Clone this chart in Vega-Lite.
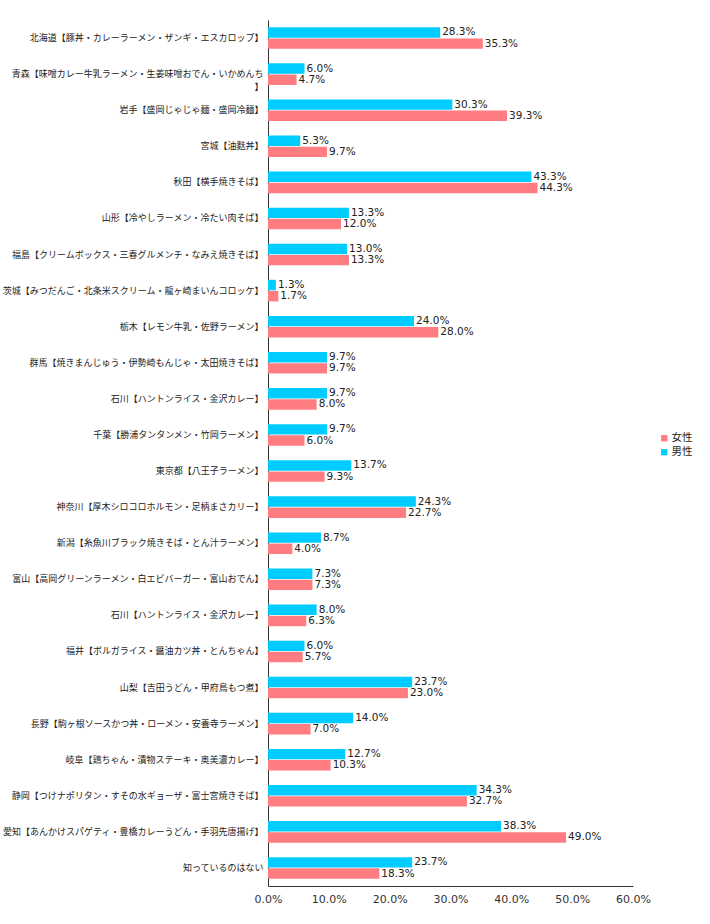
{
  "$schema": "https://vega.github.io/schema/vega-lite/v6.json",
  "autosize": {"type": "none"},
  "padding": {"left": 268, "top": 20, "right": 77, "bottom": 38},
  "width": 365,
  "height": 866,
  "background": "white",
  "config": {"view": {"stroke": null}},
  "data": {"values": [
    {"item": "北海道【豚丼・カレーラーメン・ザンギ・エスカロップ】", "sex": "男性", "v": 0.283},
    {"item": "北海道【豚丼・カレーラーメン・ザンギ・エスカロップ】", "sex": "女性", "v": 0.353},
    {"item": "青森【味噌カレー牛乳ラーメン・生姜味噌おでん・いかめんち\n】", "sex": "男性", "v": 0.060},
    {"item": "青森【味噌カレー牛乳ラーメン・生姜味噌おでん・いかめんち\n】", "sex": "女性", "v": 0.047},
    {"item": "岩手【盛岡じゃじゃ麺・盛岡冷麺】", "sex": "男性", "v": 0.303},
    {"item": "岩手【盛岡じゃじゃ麺・盛岡冷麺】", "sex": "女性", "v": 0.393},
    {"item": "宮城【油麩丼】", "sex": "男性", "v": 0.053},
    {"item": "宮城【油麩丼】", "sex": "女性", "v": 0.097},
    {"item": "秋田【横手焼きそば】", "sex": "男性", "v": 0.433},
    {"item": "秋田【横手焼きそば】", "sex": "女性", "v": 0.443},
    {"item": "山形【冷やしラーメン・冷たい肉そば】", "sex": "男性", "v": 0.133},
    {"item": "山形【冷やしラーメン・冷たい肉そば】", "sex": "女性", "v": 0.120},
    {"item": "福島【クリームボックス・三春グルメンチ・なみえ焼きそば】", "sex": "男性", "v": 0.130},
    {"item": "福島【クリームボックス・三春グルメンチ・なみえ焼きそば】", "sex": "女性", "v": 0.133},
    {"item": "茨城【みつだんご・北条米スクリーム・龍ヶ崎まいんコロッケ】", "sex": "男性", "v": 0.013},
    {"item": "茨城【みつだんご・北条米スクリーム・龍ヶ崎まいんコロッケ】", "sex": "女性", "v": 0.017},
    {"item": "栃木【レモン牛乳・佐野ラーメン】", "sex": "男性", "v": 0.240},
    {"item": "栃木【レモン牛乳・佐野ラーメン】", "sex": "女性", "v": 0.280},
    {"item": "群馬【焼きまんじゅう・伊勢崎もんじゃ・太田焼きそば】", "sex": "男性", "v": 0.097},
    {"item": "群馬【焼きまんじゅう・伊勢崎もんじゃ・太田焼きそば】", "sex": "女性", "v": 0.097},
    {"item": "石川【ハントンライス・金沢カレー】", "sex": "男性", "v": 0.097},
    {"item": "石川【ハントンライス・金沢カレー】", "sex": "女性", "v": 0.080},
    {"item": "千葉【勝浦タンタンメン・竹岡ラーメン】", "sex": "男性", "v": 0.097},
    {"item": "千葉【勝浦タンタンメン・竹岡ラーメン】", "sex": "女性", "v": 0.060},
    {"item": "東京都【八王子ラーメン】", "sex": "男性", "v": 0.137},
    {"item": "東京都【八王子ラーメン】", "sex": "女性", "v": 0.093},
    {"item": "神奈川【厚木シロコロホルモン・足柄まさカリー】", "sex": "男性", "v": 0.243},
    {"item": "神奈川【厚木シロコロホルモン・足柄まさカリー】", "sex": "女性", "v": 0.227},
    {"item": "新潟【糸魚川ブラック焼きそば・とん汁ラーメン】", "sex": "男性", "v": 0.087},
    {"item": "新潟【糸魚川ブラック焼きそば・とん汁ラーメン】", "sex": "女性", "v": 0.040},
    {"item": "富山【高岡グリーンラーメン・白エビバーガー・富山おでん】", "sex": "男性", "v": 0.073},
    {"item": "富山【高岡グリーンラーメン・白エビバーガー・富山おでん】", "sex": "女性", "v": 0.073},
    {"item": "石川【ハントンライス・金沢カレー】\u200b", "sex": "男性", "v": 0.080},
    {"item": "石川【ハントンライス・金沢カレー】\u200b", "sex": "女性", "v": 0.063},
    {"item": "福井【ボルガライス・醤油カツ丼・とんちゃん】", "sex": "男性", "v": 0.060},
    {"item": "福井【ボルガライス・醤油カツ丼・とんちゃん】", "sex": "女性", "v": 0.057},
    {"item": "山梨【吉田うどん・甲府鳥もつ煮】", "sex": "男性", "v": 0.237},
    {"item": "山梨【吉田うどん・甲府鳥もつ煮】", "sex": "女性", "v": 0.230},
    {"item": "長野【駒ヶ根ソースかつ丼・ローメン・安養寺ラーメン】", "sex": "男性", "v": 0.140},
    {"item": "長野【駒ヶ根ソースかつ丼・ローメン・安養寺ラーメン】", "sex": "女性", "v": 0.070},
    {"item": "岐阜【鶏ちゃん・漬物ステーキ・奥美濃カレー】", "sex": "男性", "v": 0.127},
    {"item": "岐阜【鶏ちゃん・漬物ステーキ・奥美濃カレー】", "sex": "女性", "v": 0.103},
    {"item": "静岡【つけナポリタン・すその水ギョーザ・富士宮焼きそば】", "sex": "男性", "v": 0.343},
    {"item": "静岡【つけナポリタン・すその水ギョーザ・富士宮焼きそば】", "sex": "女性", "v": 0.327},
    {"item": "愛知【あんかけスパゲティ・豊橋カレーうどん・手羽先唐揚げ】", "sex": "男性", "v": 0.383},
    {"item": "愛知【あんかけスパゲティ・豊橋カレーうどん・手羽先唐揚げ】", "sex": "女性", "v": 0.490},
    {"item": "知っているのはない", "sex": "男性", "v": 0.237},
    {"item": "知っているのはない", "sex": "女性", "v": 0.183}
  ]},
  "encoding": {
    "y": {
      "field": "item", "type": "nominal", "sort": null,
      "scale": {"paddingInner": 0.4, "paddingOuter": 0.2},
      "axis": {
        "title": null, "ticks": false, "labelPadding": 5, "labelLimit": 300,
        "labelFont": "Noto Sans CJK JP", "labelFontSize": 9, "labelColor": "#222",
        "labelLineHeight": 13,
        "labelExpr": "split(datum.label, '\\n')",
        "domainColor": "#333", "domainWidth": 1
      }
    },
    "yOffset": {"field": "sex", "type": "nominal", "sort": ["男性", "女性"], "scale": {"paddingInner": 0.06}},
    "x": {
      "field": "v", "type": "quantitative",
      "scale": {"domain": [0, 0.6], "nice": false},
      "axis": {
        "title": null, "format": ".1%", "values": [0, 0.1, 0.2, 0.3, 0.4, 0.5, 0.6],
        "ticks": false, "grid": false, "labelPadding": 7, "labelFlush": false,
        "labelFont": "DejaVu Sans", "labelFontSize": 11, "labelColor": "#333",
        "domainColor": "#333"
      }
    }
  },
  "layer": [
    {
      "mark": {"type": "bar"},
      "encoding": {
        "color": {
          "field": "sex", "type": "nominal",
          "scale": {"domain": ["女性", "男性"], "range": ["#FF7C80", "#00CCFF"]},
          "legend": {
            "title": null, "orient": "none", "legendX": 391, "legendY": 413,
            "symbolType": "square", "symbolSize": 40, "symbolStrokeWidth": 0,
            "labelFont": "Noto Sans CJK JP", "labelFontSize": 10.5, "labelColor": "#222",
            "labelOffset": 2, "rowPadding": 3, "padding": 0
          }
        }
      }
    },
    {
      "mark": {"type": "text", "align": "left", "baseline": "middle", "dx": 2, "font": "DejaVu Sans", "fontSize": 10.5, "color": "#222"},
      "encoding": {
        "text": {"field": "v", "type": "quantitative", "format": ".1%"}
      }
    }
  ]
}
